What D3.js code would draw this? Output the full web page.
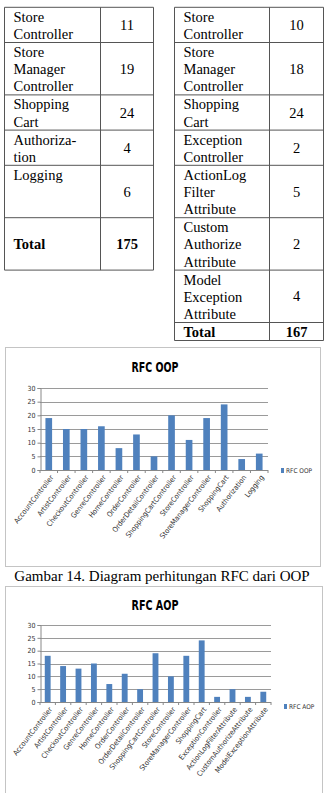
<!DOCTYPE html>
<html>
<head>
<meta charset="utf-8">
<script src="https://cdn.jsdelivr.net/npm/d3@7"></script>
<style>
  body { margin: 0; background: #fff; }
  svg text { fill: #000; }
</style>
</head>
<body>
<svg id="page"></svg>
<script>
// table contents
const oopNames = [["Store", "Controller"], ["Store", "Manager", "Controller"], ["Shopping", "Cart"], ["Authoriza-", "tion"], ["Logging"]];
const oopCounts = [11, 19, 24, 4, 6];
const oopTotal = 175;
const aopNames = [["Store", "Controller"], ["Store", "Manager", "Controller"], ["Shopping", "Cart"], ["Exception", "Controller"],
                  ["ActionLog", "Filter", "Attribute"], ["Custom", "Authorize", "Attribute"], ["Model", "Exception", "Attribute"]];
const aopCounts = [10, 18, 24, 2, 5, 2, 4];
const aopTotal = 167;

// chart data
const oopClasses = ["AccountController", "ArtistController", "CheckoutController", "GenreController", "HomeController",
  "OrderController", "OrderDetailController", "ShoppingCartController", "StoreController", "StoreManagerController",
  "ShoppingCart", "Authorization", "Logging"];
const oopRfc = [19, 15, 15, 16, 8, 13, 5, 20, 11, 19, 24, 4, 6];
const aopClasses = ["AccountController", "ArtistController", "CheckoutController", "GenreController", "HomeController",
  "OrderController", "OrderDetailController", "ShoppingCartController", "StoreController", "StoreManagerController",
  "ShoppingCart", "ExceptionController", "ActionLogFilterAttribute", "CustomAuthorizeAttribute", "ModelExceptionAttribute"];
const aopRfc = [18, 14, 13, 15, 7, 11, 5, 19, 10, 18, 24, 2, 5, 2, 4];
const yTicks = [0, 5, 10, 15, 20, 25, 30];

const W = 327, H = 793;
const svg = d3.select("#page").attr("width", W).attr("height", H);

const serif = "'Liberation Serif', 'Times New Roman', serif";
const narrow = "'Liberation Sans Narrow', 'DejaVu Sans Condensed', 'Liberation Sans', sans-serif";

// ---------- tables ----------
const lineH = 17.2, tableTop = 7.3;
const rowH = n => n * lineH + 0.8;

// rows of the two tables sit side by side, so share the row heights
const aopHeights = aopNames.map(d => rowH(d.length));
const aopYs = [];
aopHeights.reduce((y, h) => { aopYs.push(y); return y + h; }, tableTop);

function drawTable(names, counts, total, x0, x1, x2, totalH) {
  const g = svg.append("g");
  const rows = names.map((n, i) => ({ lines: n, value: counts[i], y: aopYs[i], h: aopHeights[i] }));
  const totalY = aopYs[names.length] !== undefined ? aopYs[names.length]
                 : aopYs[aopYs.length - 1] + aopHeights[aopHeights.length - 1];
  const bottom = totalY + totalH;

  rows.forEach(r => {
    r.lines.forEach((t, j) => {
      g.append("text").attr("x", x0 + 9).attr("y", r.y + 14.5 + j * lineH)
        .style("font", `14.5px ${serif}`).text(t);
    });
    g.append("text").attr("x", (x1 + x2) / 2).attr("y", r.y + r.h / 2 + 5)
      .attr("text-anchor", "middle").style("font", `14.5px ${serif}`).text(r.value);
  });

  const midY = totalH > 30 ? totalY + totalH / 2 + 5 : totalY + 14.5;
  g.append("text").attr("x", x0 + 9).attr("y", midY)
    .style("font", `bold 14.5px ${serif}`).text("Total");
  g.append("text").attr("x", (x1 + x2) / 2).attr("y", midY).attr("text-anchor", "middle")
    .style("font", `bold 14.5px ${serif}`).text(total);

  // grid lines
  const hLines = rows.map(r => r.y).concat([totalY, bottom]);
  g.selectAll("line.h").data(hLines).join("line")
    .attr("x1", x0).attr("x2", x2).attr("y1", d => d).attr("y2", d => d)
    .attr("stroke", "#555").attr("stroke-width", 1);
  g.selectAll("line.v").data([x0, x1, x2]).join("line").attr("class", "v")
    .attr("x1", d => d).attr("x2", d => d).attr("y1", tableTop).attr("y2", bottom)
    .attr("stroke", "#555").attr("stroke-width", 1);
}

drawTable(oopNames, oopCounts, oopTotal, 4.5, 100.5, 153.5, aopHeights[5]);
drawTable(aopNames, aopCounts, aopTotal, 174.5, 269.5, 323.5, 18);

// ---------- bar charts ----------
function barChart(opts) {
  const { classes, values, box, plot, title, titleY, legend, legendX, legendY } = opts;
  const g = svg.append("g");

  g.append("rect").attr("x", box[0]).attr("y", box[1])
    .attr("width", box[2] - box[0]).attr("height", box[3] - box[1])
    .attr("fill", "#fff").attr("stroke", "#c4c4c4").attr("stroke-width", 1);

  g.append("text").attr("x", 155).attr("y", titleY).attr("text-anchor", "middle")
    .attr("textLength", 47).attr("lengthAdjust", "spacingAndGlyphs")
    .style("font", `bold 14px ${narrow}`).text(title);

  const x = d3.scaleBand().domain(classes).range([plot.left, plot.right]).paddingInner(0.62).paddingOuter(0.31);
  const y = d3.scaleLinear().domain([0, 30]).range([plot.bottom, plot.top]);

  // gridlines
  g.append("g").selectAll("line").data(yTicks.slice(1)).join("line")
    .attr("x1", plot.left).attr("x2", plot.right)
    .attr("y1", d => Math.round(y(d)) + 0.5).attr("y2", d => Math.round(y(d)) + 0.5)
    .attr("stroke", "#9a9a9a").attr("stroke-width", 1);

  const yAxis = g.append("g").attr("transform", `translate(${plot.left + 0.5},0)`)
    .call(d3.axisLeft(y).tickValues(yTicks).tickSize(3).tickPadding(2));
  yAxis.select(".domain").attr("stroke", "#888");
  yAxis.selectAll(".tick line").attr("stroke", "#888");
  yAxis.selectAll("text").style("font", `7px ${narrow}`).style("fill", "#333");

  g.append("g").selectAll("rect").data(values).join("rect")
    .attr("x", (d, i) => x(classes[i]))
    .attr("y", d => y(d))
    .attr("width", x.bandwidth())
    .attr("height", d => y(0) - y(d))
    .attr("fill", "#4f81bd");

  // category axis: ticks at band boundaries
  const bounds = d3.range(classes.length + 1).map(i => plot.left + i * (plot.right - plot.left) / classes.length);
  g.append("line").attr("x1", plot.left).attr("x2", plot.right)
    .attr("y1", Math.round(y(0)) + 0.5).attr("y2", Math.round(y(0)) + 0.5).attr("stroke", "#888");
  g.append("g").selectAll("line").data(bounds).join("line")
    .attr("x1", d => d).attr("x2", d => d)
    .attr("y1", y(0)).attr("y2", y(0) + 3).attr("stroke", "#888");

  g.append("g").selectAll("text").data(classes).join("text")
    .attr("transform", d => `translate(${x(d) + x.bandwidth() / 2 + 3},${y(0) + 6}) rotate(-52)`)
    .attr("text-anchor", "end").attr("dy", "0.35em")
    .style("font", `7.3px ${narrow}`).style("fill", "#333")
    .text(d => d);

  // legend
  g.append("rect").attr("x", legendX).attr("y", legendY - 2.5).attr("width", 3).attr("height", 5).attr("fill", "#4f81bd");
  g.append("text").attr("x", legendX + 5).attr("y", legendY).attr("dy", "0.35em")
    .style("font", `6.5px ${narrow}`).style("fill", "#333").text(legend);
}

barChart({
  classes: oopClasses, values: oopRfc,
  box: [5.5, 347.5, 320.5, 566.5],
  plot: { left: 40, right: 268, top: 388, bottom: 470 },
  title: "RFC OOP", titleY: 371.5,
  legend: "RFC OOP", legendX: 281, legendY: 470.5
});

svg.append("text").attr("x", 162).attr("y", 580.5).attr("text-anchor", "middle")
  .style("font", `15px ${serif}`).text("Gambar 14. Diagram perhitungan RFC dari OOP");

barChart({
  classes: aopClasses, values: aopRfc,
  box: [5.5, 586.5, 322.5, 800],
  plot: { left: 40, right: 271, top: 625, bottom: 702 },
  title: "RFC AOP", titleY: 610,
  legend: "RFC AOP", legendX: 284, legendY: 706.5
});
</script>
</body>
</html>
